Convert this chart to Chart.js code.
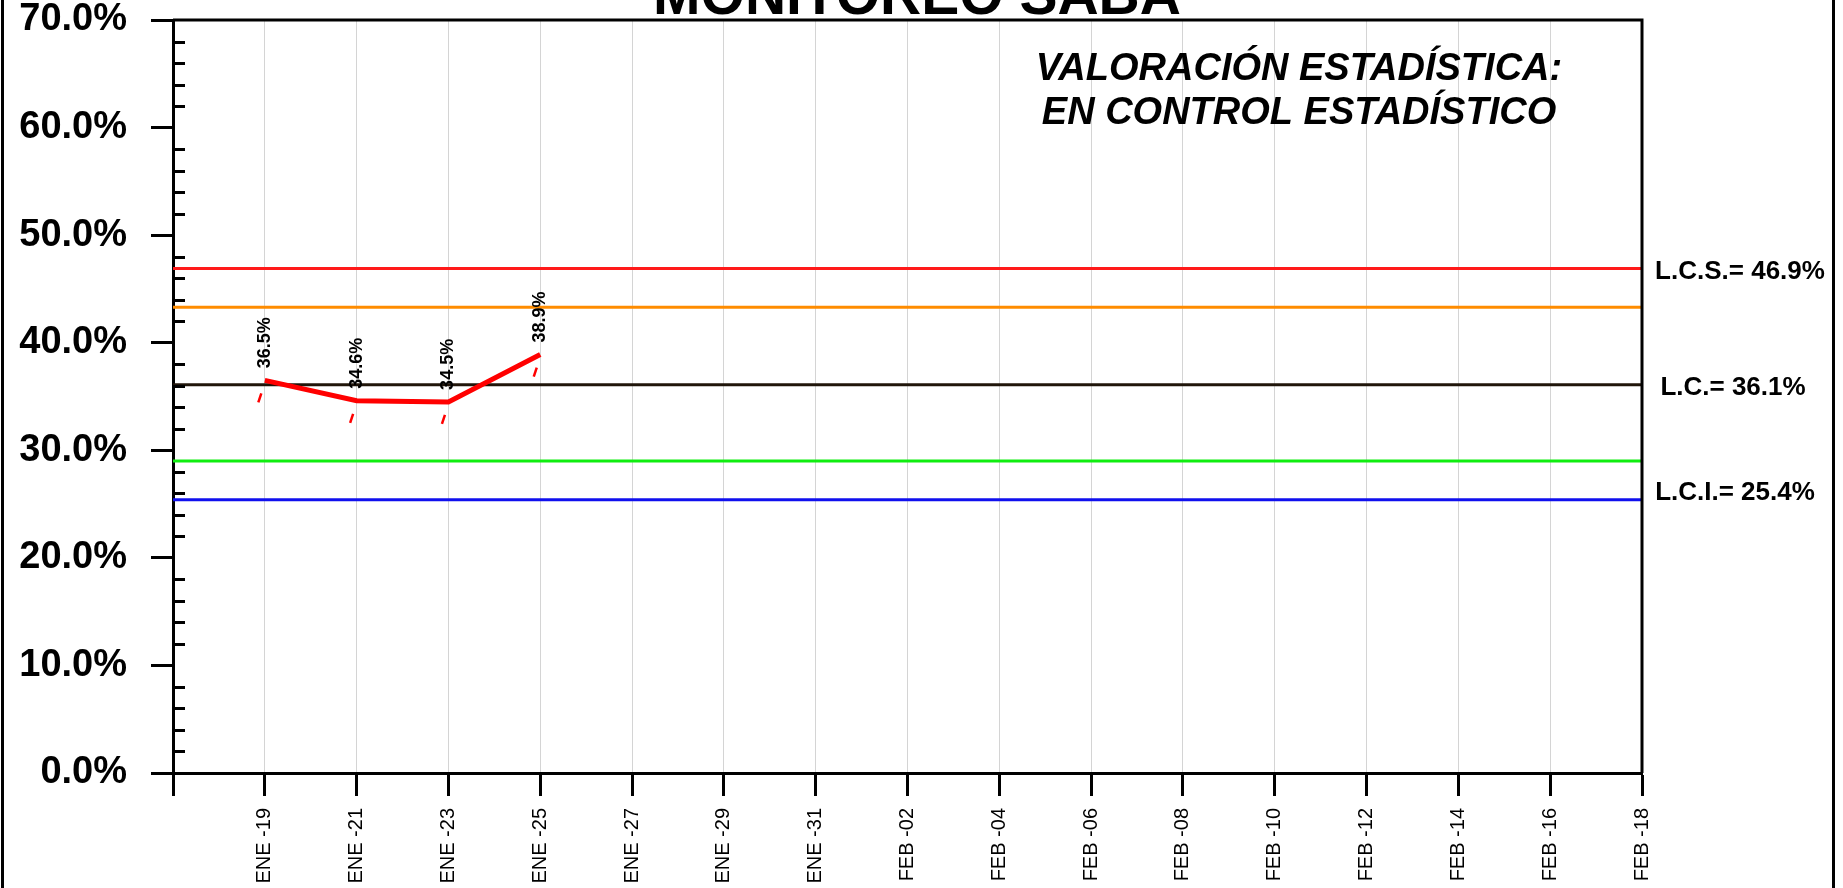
<!DOCTYPE html>
<html lang="es">
<head>
    <meta charset="UTF-8">
    <title>Monitoreo SABA</title>
    <script src="https://cdn.jsdelivr.net/npm/chart.js@4"></script>
    <style>
        html, body { margin: 0; padding: 0; background: #fff; overflow: hidden; }
        #wrap { width: 1843px; height: 888px; position: relative; }
    </style>
</head>
<body>
<div id="wrap"><canvas id="myChart"></canvas></div>
<script>
    // fechas del eje x (cada 2 dias), la primera no lleva etiqueta
    const fechas = ['ENE -17', 'ENE -19', 'ENE -21', 'ENE -23', 'ENE -25', 'ENE -27', 'ENE -29', 'ENE -31',
        'FEB -02', 'FEB -04', 'FEB -06', 'FEB -08', 'FEB -10', 'FEB -12', 'FEB -14', 'FEB -16', 'FEB -18'];
    const porcentajes = [null, 36.5, 34.6, 34.5, 38.9, null, null, null, null, null, null, null, null, null, null, null, null];

    // limites de control
    const limiteValores = [46.9, 43.3, 36.1, 29.0, 25.4];
    const limiteNombres = ['L.C.S.', '', 'L.C.', '', 'L.C.I.'];
    const limiteColores = ['#ff1a1a', '#ff8c00', '#20150a', '#10ee10', '#1010ee'];

    const titulo = 'MONITOREO SABA';
    const valoracion = ['VALORACIÓN ESTADÍSTICA:', 'EN CONTROL ESTADÍSTICO'];

    const yMin = 0, yMax = 70, yPaso = 10, yMenor = 2;
    const FONT = 'Liberation Sans, Arial, sans-serif';

    const datasets = [{
        label: 'Porcentaje',
        data: porcentajes,
        borderColor: '#ff0000',
        borderWidth: 5,
        pointRadius: 0,
        fill: false,
        order: 0
    }];
    limiteValores.forEach((v, i) => {
        datasets.push({
            label: limiteNombres[i],
            data: [{ x: fechas[0], y: v }, { x: fechas[fechas.length - 1], y: v }],
            borderColor: limiteColores[i],
            borderWidth: 3,
            pointRadius: 0,
            fill: false,
            order: i + 1
        });
    });

    const extras = {
        id: 'extras',
        beforeDraw(chart) {
            const ctx = chart.ctx;
            ctx.save();
            ctx.fillStyle = '#fff';
            ctx.fillRect(0, 0, chart.width, chart.height);
            ctx.restore();
        },
        afterDraw(chart) {
            const ctx = chart.ctx;
            const a = chart.chartArea;
            const y = chart.scales.y;
            ctx.save();

            // marco exterior
            ctx.strokeStyle = '#000';
            ctx.lineWidth = 3;
            ctx.beginPath();
            ctx.moveTo(2.5, 0); ctx.lineTo(2.5, chart.height);
            ctx.moveTo(1833.5, 0); ctx.lineTo(1833.5, chart.height);
            ctx.stroke();

            // borde superior y derecho del area
            ctx.beginPath();
            ctx.moveTo(a.left, a.top); ctx.lineTo(a.right, a.top); ctx.lineTo(a.right, a.bottom);
            ctx.stroke();

            // marcas menores hacia adentro
            ctx.beginPath();
            for (let v = yMin; v <= yMax; v += yMenor) {
                if (v % yPaso === 0) continue;
                const py = Math.round(y.getPixelForValue(v)) + 0.5;
                ctx.moveTo(a.left, py); ctx.lineTo(a.left + 12, py);
            }
            ctx.stroke();

            // titulo (cortado arriba)
            ctx.fillStyle = '#000';
            ctx.textAlign = 'center';
            ctx.textBaseline = 'alphabetic';
            ctx.font = 'bold 57px ' + FONT;
            ctx.fillText(titulo, 917, 14);

            // valoracion
            ctx.font = 'italic bold 38px ' + FONT;
            ctx.fillText(valoracion[0], 1299, 80);
            ctx.fillText(valoracion[1], 1299, 124);

            // etiquetas de limites
            ctx.font = 'bold 26px ' + FONT;
            ctx.textBaseline = 'middle';
            const desp = [3, 0, 3, 0, -7];
            const cx = [1740, 0, 1733, 0, 1735];
            limiteValores.forEach((v, i) => {
                if (!limiteNombres[i]) return;
                ctx.fillText(limiteNombres[i] + '= ' + v.toFixed(1) + '%', cx[i], y.getPixelForValue(v) + desp[i]);
            });

            // etiquetas de datos y marcas rojas
            const meta = chart.getDatasetMeta(0);
            meta.data.forEach((pt, i) => {
                if (porcentajes[i] === null) return;
                ctx.save();
                ctx.translate(pt.x, pt.y - 12);
                ctx.rotate(-Math.PI / 2);
                ctx.font = 'bold 18px ' + FONT;
                ctx.textAlign = 'left';
                ctx.textBaseline = 'middle';
                ctx.fillStyle = '#000';
                ctx.fillText(porcentajes[i].toFixed(1) + '%', 0, 0);
                ctx.restore();

                ctx.strokeStyle = '#ff0000';
                ctx.lineWidth = 2.5;
                ctx.beginPath();
                ctx.moveTo(pt.x - 6.5, pt.y + 22);
                ctx.lineTo(pt.x - 3.5, pt.y + 13);
                ctx.stroke();
            });
            ctx.restore();
        }
    };

    const ctx = document.getElementById('myChart').getContext('2d');
    new Chart(ctx, {
        type: 'line',
        data: { labels: fechas, datasets: datasets },
        options: {
            responsive: true,
            maintainAspectRatio: false,
            animation: false,
            layout: { padding: { top: 20, right: 201, left: 0, bottom: 0 } },
            plugins: { legend: { display: false }, tooltip: { enabled: false }, title: { display: false } },
            scales: {
                x: {
                    type: 'category',
                    offset: false,
                    afterFit: s => { s.height = 115; s.paddingLeft = 0; s.paddingRight = 0; },
                    grid: {
                        display: true,
                        drawOnChartArea: true,
                        color: '#d4d4d4',
                        lineWidth: 1,
                        drawTicks: true,
                        tickLength: 23,
                        tickWidth: 3,
                        tickColor: '#000'
                    },
                    border: { display: true, color: '#000', width: 3 },
                    ticks: {
                        autoSkip: false,
                        maxRotation: 90,
                        minRotation: 90,
                        padding: 12,
                        color: '#000',
                        font: { family: FONT, size: 20 },
                        callback: function (val, i) { return i === 0 ? '' : this.getLabelForValue(val); }
                    }
                },
                y: {
                    min: yMin,
                    max: yMax,
                    afterFit: s => { s.width = 173; s.paddingTop = 0; s.paddingBottom = 0; },
                    grid: {
                        drawOnChartArea: false,
                        drawTicks: true,
                        tickLength: 22,
                        tickWidth: 3,
                        tickColor: '#000'
                    },
                    border: { display: true, color: '#000', width: 3 },
                    ticks: {
                        stepSize: yPaso,
                        padding: 24,
                        color: '#000',
                        font: { family: FONT, size: 38, weight: 'bold', lineHeight: 1 },
                        callback: v => v.toFixed(1) + '%'
                    }
                }
            }
        },
        plugins: [extras]
    });
</script>
</body>
</html>
